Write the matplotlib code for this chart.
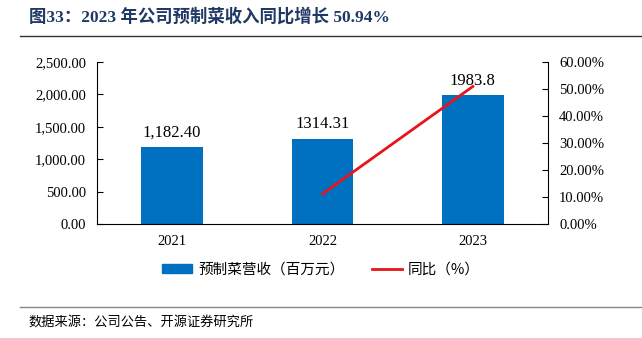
import numpy as np
import matplotlib.pyplot as plt
import matplotlib.lines as mlines
import matplotlib.patches as mpatches

plt.rcParams['font.family'] = ['Liberation Serif', 'Noto Sans CJK SC']

# 数据
years = ['2021', '2022', '2023']
revenue = [1182.40, 1314.31, 1983.8]
revenue_labels = ['1,182.40', '1314.31', '1983.8']
yoy = [None, 11.16, 50.94]

bar_color = '#0070C0'
line_color = '#E8141B'

fig = plt.figure(figsize=(6.42, 3.38), dpi=100)
ax = fig.add_axes([97/642, 1-224/338, 451/642, 162/338])
x = np.arange(len(years))
ax.bar(x, revenue, width=0.41, color=bar_color, zorder=2)
ax.set_xlim(-0.5, 2.5)
ax.set_ylim(0, 2500)
ax.set_yticks(np.arange(0, 2501, 500))
ax.set_yticklabels(['{:,.2f}'.format(v) for v in np.arange(0, 2501, 500)])
ax.set_xticks(x)
ax.set_xticklabels(years)
ax.tick_params(axis='y', direction='in', length=4, labelsize=10.5, pad=8)
ax.tick_params(axis='x', length=0, labelsize=10.5, pad=8)
for s in ['top', 'right']:
    ax.spines[s].set_visible(False)
for i, (v, lab) in enumerate(zip(revenue, revenue_labels)):
    ax.text(x[i], v + 100, lab, ha='center', va='bottom', fontsize=12)

ax2 = ax.twinx()
ax2.plot(x[1:], [v / 100 for v in yoy[1:]], color=line_color, lw=2, zorder=3)
ax2.set_ylim(0, 0.6)
ax2.set_yticks(np.arange(0, 0.61, 0.1))
ax2.set_yticklabels(['{:.2f}%'.format(v * 100) for v in np.arange(0, 0.61, 0.1)])
ax2.tick_params(axis='y', direction='in', length=4, labelsize=10.5, pad=8)
for s in ['top', 'left', 'bottom']:
    ax2.spines[s].set_visible(False)
ax.set_zorder(1)
ax2.set_zorder(2)
ax2.patch.set_visible(False)

# 图例
h1 = mpatches.Patch(color=bar_color, label='预制菜营收（百万元）')
h2 = mlines.Line2D([], [], color=line_color, lw=2, label='同比（%）')
fig.legend(handles=[h1, h2], loc='center', bbox_to_anchor=(0.5, 1-270/338), ncol=2,
           frameon=False, handlelength=2.05, handletextpad=0.4, columnspacing=1.9,
           handleheight=0.6, prop={'family': ['Noto Sans CJK SC'], 'size': 10.5})

# 标题与来源
fig.text(29/642, 1-17/338, '图33：2023 年公司预制菜收入同比增长 50.94%', color='#1F3864',
         fontsize=12.5, fontweight='bold', va='center', ha='left',
         family=['Liberation Serif', 'Noto Sans CJK SC'])
fig.add_artist(mlines.Line2D([20/642, 1], [1-36/338, 1-36/338], color='#333333', lw=1))
fig.add_artist(mlines.Line2D([20/642, 1], [1-307/338, 1-307/338], color='#888888', lw=1))
fig.text(28/642, 1-322/338, '数据来源：公司公告、开源证券研究所', fontsize=9.5, va='center',
         family=['Noto Sans CJK SC'])

fig.savefig('out.png', dpi=100)
